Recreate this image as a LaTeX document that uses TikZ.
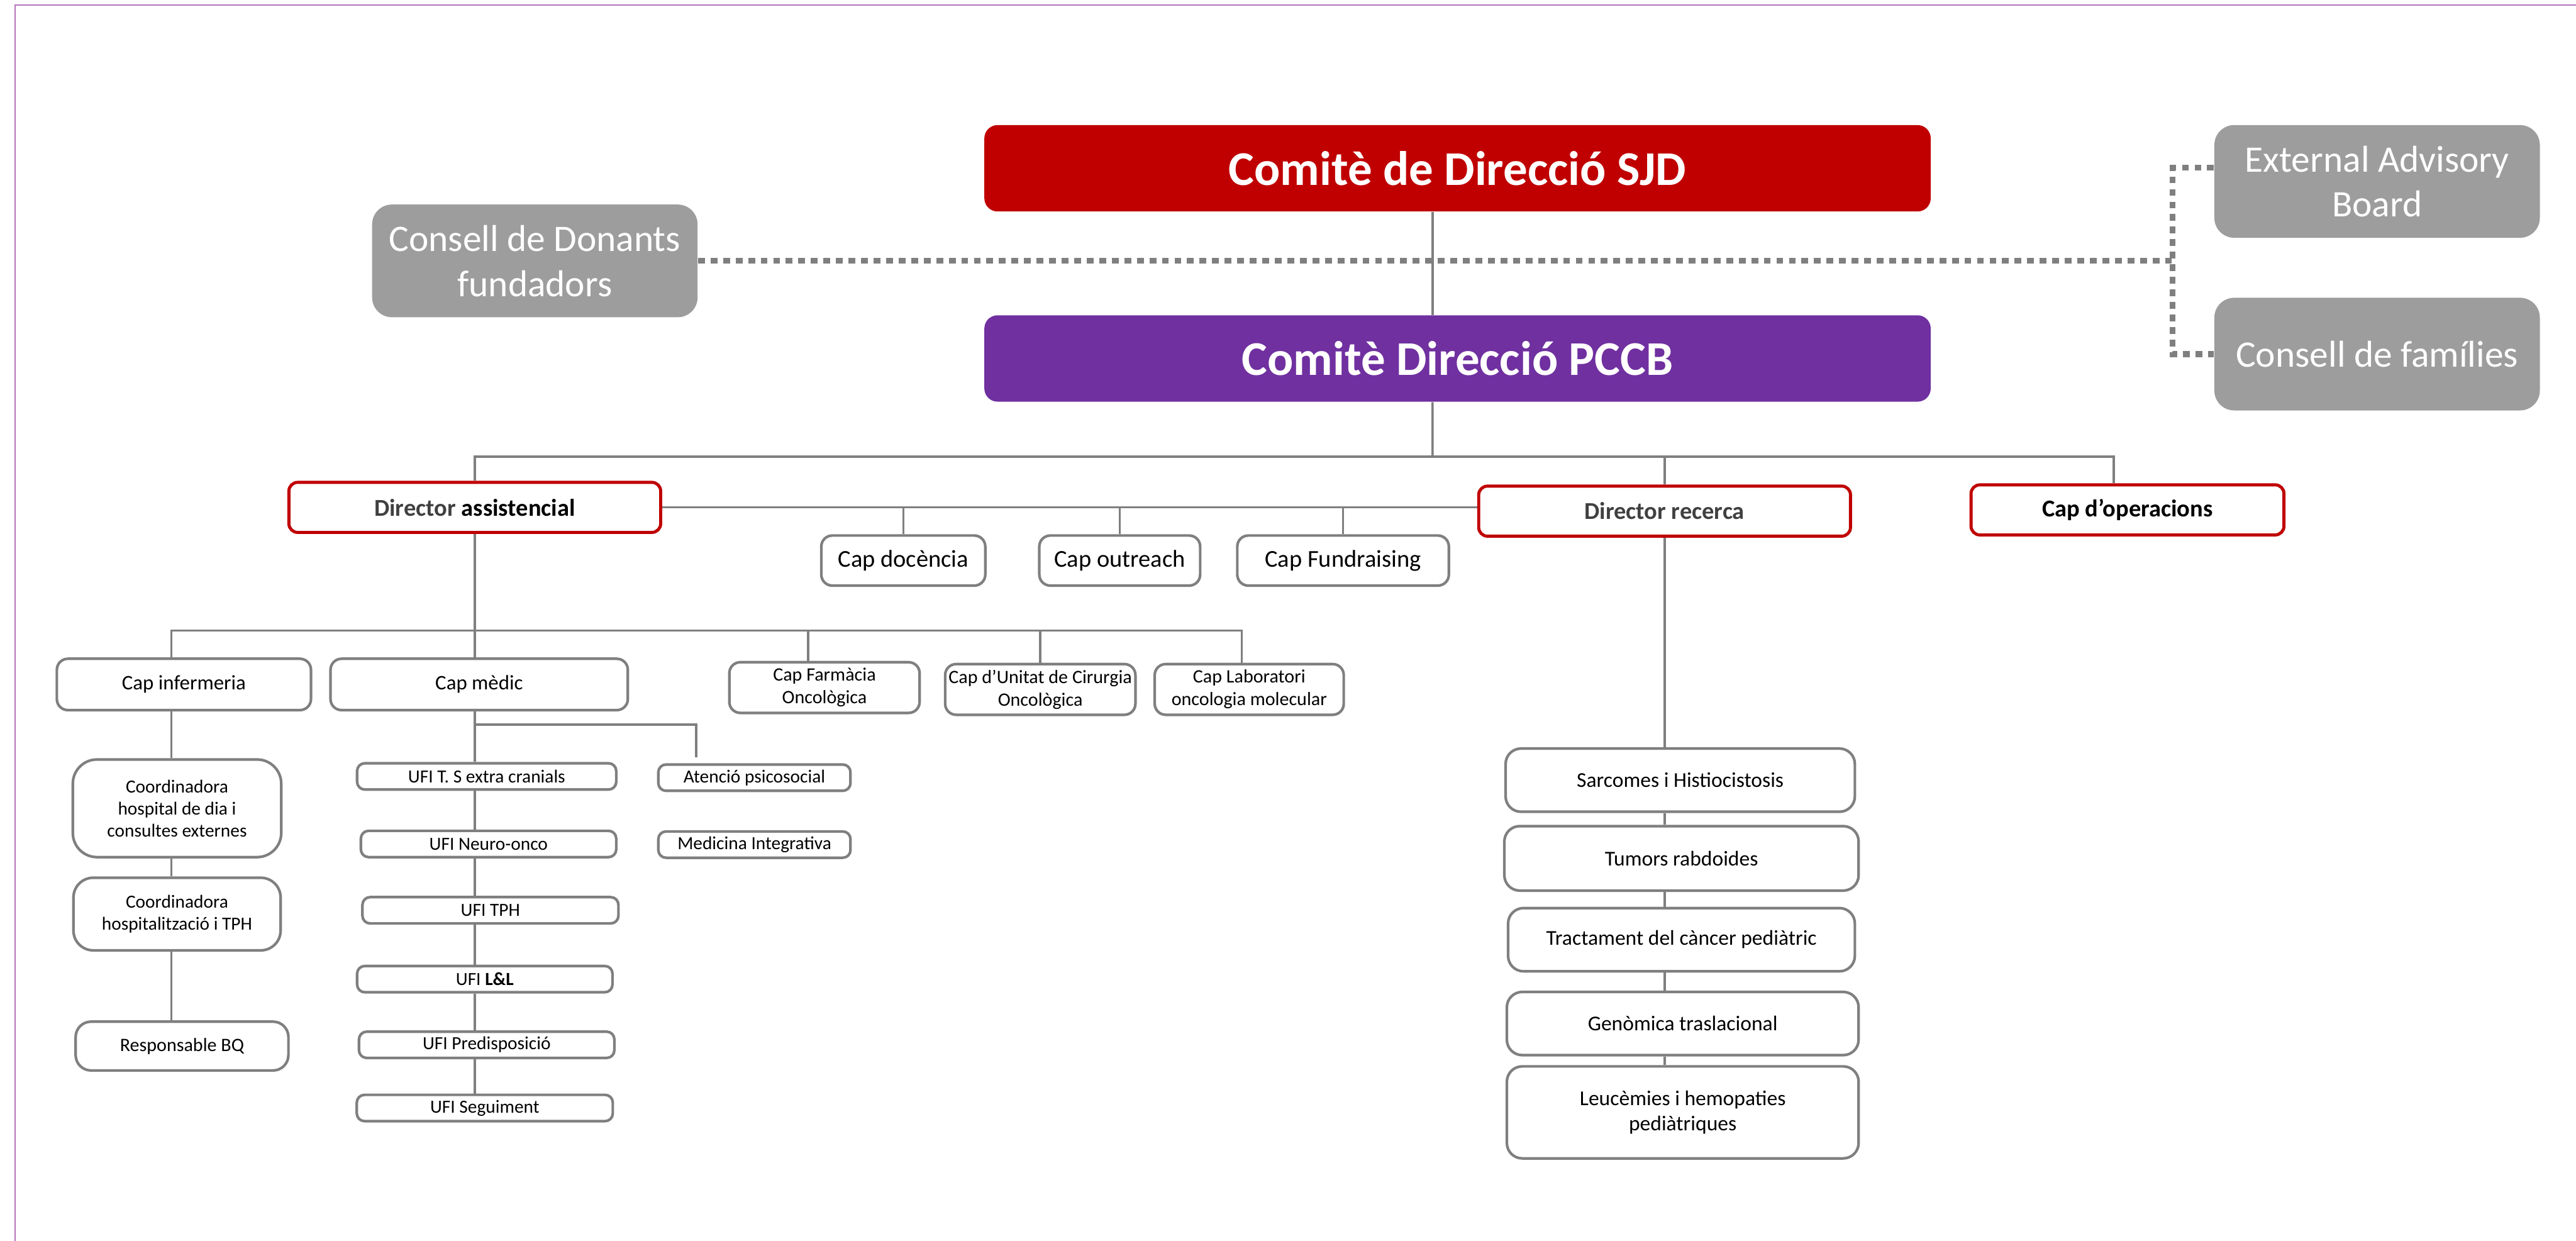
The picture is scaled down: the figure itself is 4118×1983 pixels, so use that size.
\documentclass[tikz,border=0pt]{standalone}
\usepackage{fontspec}
\setmainfont{Carlito}
\definecolor{sjdred}{HTML}{C00000}
\definecolor{pccbpurple}{HTML}{7030A0}
\definecolor{boardgray}{HTML}{9D9D9D}
\definecolor{linegray}{HTML}{7F7F7F}
\definecolor{framepurple}{HTML}{B574BA}
\definecolor{darktext}{HTML}{404040}

\begin{document}
\begin{tikzpicture}[x=0.01cm, y=-0.01cm, every node/.style={inner sep=0pt, align=center}, comite/.style={rounded corners=6pt, minimum width=15.12cm, minimum height=1.38cm, text=white, font=\fontsize{22}{26}\selectfont\bfseries}, board/.style={fill=boardgray, rounded corners=9pt, minimum width=5.2cm, minimum height=1.8cm, text=white, font=\fontsize{17}{20.5}\selectfont}, director/.style={draw=sjdred, line width=1.4pt, fill=white, rounded corners=4pt, minimum height=0.8cm, font=\fontsize{11}{13}\selectfont\bfseries}, unitbox/.style={draw=linegray, line width=1.2pt, fill=white, rounded corners=5pt}, capbox/.style={unitbox, minimum height=0.8cm, font=\fontsize{11}{13}\selectfont}, headbox/.style={unitbox, minimum height=0.82cm, font=\fontsize{9.4}{11.3}\selectfont}, smallbox/.style={unitbox, minimum height=0.81cm, font=\fontsize{8.6}{10.3}\selectfont}, ufibox/.style={unitbox, rounded corners=3.5pt, minimum width=4.1cm, minimum height=0.42cm, font=\fontsize{8.4}{10}\selectfont}, groupbox/.style={unitbox, rounded corners=7pt, minimum height=1.01cm, font=\fontsize{9.6}{11.5}\selectfont}, link/.style={draw=linegray, line width=1pt}, dotlink/.style={draw=linegray, line width=2.6pt, dash pattern=on 3.1pt off 2.6pt}]
  \useasboundingbox (0,0) rectangle (4118,1983);
  \draw[framepurple, line width=0.7pt] (24,2200) -- (24,8) -- (4300,8);

  \node[comite, fill=sjdred] (sjd) at (2330,269) {Comitè de Direcció SJD};
  \node[comite, fill=pccbpurple] (pccb) at (2330,573) {Comitè Direcció PCCB};
  \node[board] (donants) at (855,417) {Consell de Donants\\fundadors};
  \node[board] (eab) at (3800,290) {External Advisory\\Board};
  \node[board] (families) at (3800,566) {Consell de famílies};

  \node[director, minimum width=5.94cm] (dirass) at (759,811) {\textcolor{darktext}{Director} assistencial};
  \node[director, minimum width=5.94cm, text=darktext] (dirrec) at (2661,817) {Director recerca};
  \node[director, minimum width=5.0cm] (capop) at (3401,815) {Cap d’operacions};

  \node[capbox, minimum width=2.62cm] (docencia) at (1444,896) {Cap docència};
  \node[capbox, minimum width=2.57cm] (outreach) at (1790,896) {Cap outreach};
  \node[capbox, minimum width=3.38cm] (fundraising) at (2147,896) {Cap Fundraising};

  \node[headbox, minimum width=4.06cm] (infer) at (294,1094) {Cap infermeria};
  \node[headbox, minimum width=4.75cm] (capmed) at (766,1094) {Cap mèdic};
  \node[smallbox, minimum width=3.04cm] (farmacia) at (1318,1099) {Cap Farmàcia\\Oncològica};
  \node[smallbox, minimum width=3.04cm] (cirurgia) at (1663,1102) {Cap d’Unitat de Cirurgia\\Oncològica};
  \node[smallbox, minimum width=3.02cm] (labor) at (1997,1102) {Cap Laboratori\\oncologia molecular};

  \node[unitbox, minimum width=3.33cm, minimum height=1.56cm, rounded corners=11pt, font=\fontsize{8.4}{10}\selectfont] (coord1) at (283,1292) {Coordinadora\\hospital de dia i\\consultes externes};
  \node[unitbox, minimum width=3.31cm, minimum height=1.16cm, rounded corners=9pt, font=\fontsize{8.4}{10}\selectfont] (coord2) at (283,1461) {Coordinadora\\hospitalització i TPH};
  \node[unitbox, minimum width=3.4cm, minimum height=0.78cm, rounded corners=7pt, font=\fontsize{8.6}{10.3}\selectfont] (resp) at (291,1672) {Responsable BQ};

  \node[ufibox, minimum width=4.14cm] (ufi1) at (778,1241) {UFI T. S extra cranials};
  \node[ufibox, minimum width=4.08cm] (ufi2) at (781,1349) {UFI Neuro-onco};
  \node[ufibox, minimum width=4.09cm] (ufi3) at (784,1455) {UFI TPH};
  \node[ufibox, minimum width=4.08cm] (ufi4) at (775,1565) {UFI \textbf{L\&L}};
  \node[ufibox, minimum width=4.08cm] (ufi5) at (778,1670) {UFI Predisposició};
  \node[ufibox, minimum width=4.09cm] (ufi6) at (775,1771) {UFI Seguiment};

  \node[ufibox, minimum width=3.07cm] (atencio) at (1206,1243) {Atenció psicosocial};
  \node[ufibox, minimum width=3.07cm] (medicina) at (1206,1350) {Medicina Integrativa};

  \node[groupbox, minimum width=5.58cm] (sarc) at (2686,1247) {Sarcomes i Histiocistosis};
  \node[groupbox, minimum width=5.66cm, minimum height=1.03cm] (tumors) at (2688,1372) {Tumors rabdoides};
  \node[groupbox, minimum width=5.54cm] (tract) at (2688,1502) {Tractament del càncer pediàtric};
  \node[groupbox, minimum width=5.62cm] (genom) at (2690,1636) {Genòmica traslacional};
  \node[groupbox, minimum width=5.62cm, minimum height=1.47cm] (leuc) at (2690,1778) {Leucèmies i hemopaties\\pediàtriques};

  \draw[link] ([xshift=-0.4cm]sjd.south) -- ([xshift=-0.4cm]pccb.north);
  \coordinate (bus1) at (2290,730);
  \draw[link] ([xshift=-0.4cm]pccb.south) -- (bus1);
  \draw[link] (dirass.north) |- (bus1) -| ([xshift=-0.22cm]capop.north);
  \draw[link] (bus1) -| (dirrec.north);
  \draw[link] (dirass.east) -- (dirass.east -| dirrec.west);
  \foreach \n in {docencia, outreach, fundraising}
    \draw[link] (\n.north) -- (\n.north |- dirass.east);

  \coordinate (bus2) at (759,1008);
  \draw[link] (dirass.south) -- (bus2);
  \draw[link] ([xshift=-0.2cm]infer.north) |- (bus2) -| ([xshift=-0.12cm]labor.north);
  \draw[link] (bus2) -- (bus2 |- capmed.north);
  \draw[link] ([xshift=-0.26cm]farmacia.north) -- ([xshift=-0.26cm]farmacia.north |- bus2);
  \draw[link] (cirurgia.north) -- (cirurgia.north |- bus2);

  \coordinate (colA) at (274,0);
  \foreach \a/\b in {infer/coord1, coord1/coord2, coord2/resp}
    \draw[link] (\a.south -| colA) -- (\b.north -| colA);
  \coordinate (colB) at (759,0);
  \foreach \a/\b in {capmed/ufi1, ufi1/ufi2, ufi2/ufi3, ufi3/ufi4, ufi4/ufi5, ufi5/ufi6}
    \draw[link] (\a.south -| colB) -- (\b.north -| colB);
  \coordinate (psi) at (1113,1158);
  \draw[link] (psi -| colB) -- (psi) -- ([yshift=0.09cm]atencio.north -| psi);
  \foreach \a/\b in {dirrec/sarc, sarc/tumors, tumors/tract, tract/genom, genom/leuc}
    \draw[link] (\a.south -| dirrec.south) -- (\b.north -| dirrec.south);

  \coordinate (advx) at (3474,418);
  \draw[dotlink] (donants.east) -- (donants.east -| advx);
  \draw[dotlink] ([yshift=0.22cm]eab.west) -- ++(-66,0) |- (families.west);
\end{tikzpicture}
\end{document}
